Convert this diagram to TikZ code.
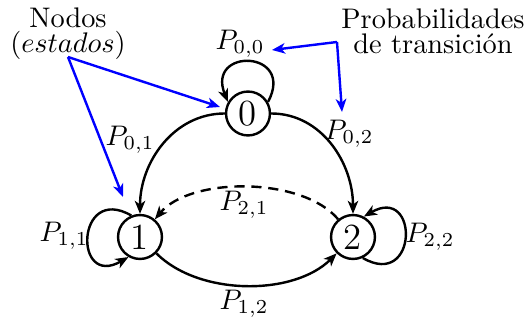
\documentclass[tikz,border=0pt]{standalone}
\usetikzlibrary{arrows.meta}
\begin{document}
\begin{tikzpicture}[x=0.353pt,y=0.353pt,
  state/.style={circle,draw,line width=0.85pt,minimum size=15.5pt,inner sep=0pt,font=\fontsize{13}{15}\selectfont},
  edge/.style={line width=0.85pt,-{Stealth[length=4.6pt,width=3.7pt,inset=1.3pt]}},
  note/.style={blue,line width=0.85pt,-{Stealth[length=4.6pt,width=3.7pt,inset=1.3pt]}},
  lbl/.style={inner sep=0pt},
  txt/.style={align=center,inner sep=0pt,font=\fontsize{10}{8.7}\selectfont}]
\useasboundingbox (0,0) rectangle (530,-324);
% states
\node[state] (n0) at (248,-113.5) {0};
\node[state] (n1) at (140,-237) {1};
\node[state] (n2) at (353,-237) {2};
% transitions
\draw[edge] (n0) to[out=180,in=90] (n1);
\draw[edge] (n0) to[out=0,in=90] (n2);
\draw[edge,dash pattern=on 3.6pt off 2.4pt] (n2) to[out=130,in=50,looseness=0.78] (n1);
\draw[edge] (n1) to[out=-45,in=-135,looseness=0.86] (n2);
\draw[edge] (n0.30) .. controls +(62:59) and +(112:59) .. (n0.150);
\draw[edge] (n1.112) .. controls +(150:64) and +(210:64) .. (n1.240);
\draw[edge] (n2.-65) .. controls +(-30:64) and +(30:64) .. (n2.62);
% labels
\node[lbl] (p00) at (240,-44) {$P_{0,0}$};
\node[lbl] (p01) at (130,-140) {$P_{0,1}$};
\node[lbl] (p02) at (349,-134) {$P_{0,2}$};
\node[lbl] (p11) at (64,-236) {$P_{1,1}$};
\node[lbl] (p22) at (430,-237) {$P_{2,2}$};
\node[lbl] (p21) at (244,-205) {$P_{2,1}$};
\node[lbl] (p12) at (244,-304) {$P_{1,2}$};
% annotations
\node[txt,anchor=north] (nodos) at (68,-7.3) {Nodos\\$(estados)$};
\node[txt,anchor=north] (prob) at (433,-8.3) {Probabilidades\\de transición};
\coordinate (na) at (68,-57);
\coordinate (ta) at (220,-107);
\coordinate (tb) at (123,-197);
\coordinate (pb) at (337,-42);
\coordinate (tc) at (272,-50);
\coordinate (td) at (342,-112);
\draw[note] (na) -- (ta);
\draw[note] (na) -- (tb);
\draw[note] (pb) -- (tc);
\draw[note] (pb) -- (td);
\end{tikzpicture}
\end{document}
